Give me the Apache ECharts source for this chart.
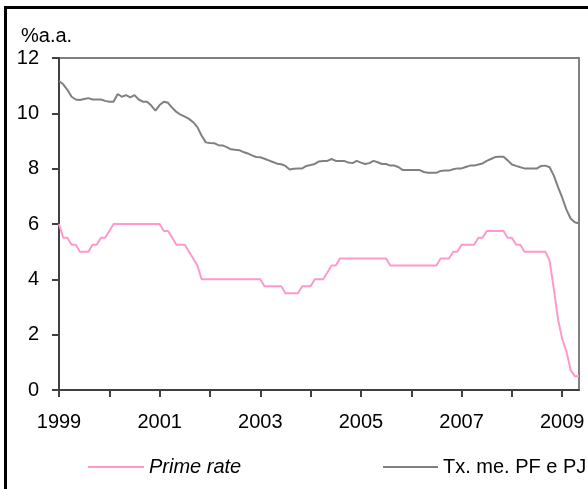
<!DOCTYPE html>
<html>
<head>
<meta charset="utf-8">
<script src="https://cdn.jsdelivr.net/npm/echarts@6/dist/echarts.min.js"></script>
<style>
  html, body { margin: 0; padding: 0; background: #fff; }
  #chart { width: 588px; height: 489px; }
</style>
</head>
<body>
<div id="chart"></div>
<script>
// Monthly series, Jan 1999 – May 2009 (% a.a.)
const startYear = 1999;
const monthCount = 125;

const primeRate = [
  6.0, 5.5, 5.5, 5.25, 5.25, 5.0, 5.0, 5.0, 5.25, 5.25, 5.5, 5.5,
  5.75, 6.0, 6.0, 6.0, 6.0, 6.0, 6.0, 6.0, 6.0, 6.0, 6.0, 6.0,
  6.0, 5.75, 5.75, 5.5, 5.25, 5.25, 5.25, 5.0, 4.75, 4.5, 4.0, 4.0,
  4.0, 4.0, 4.0, 4.0, 4.0, 4.0, 4.0, 4.0, 4.0, 4.0, 4.0, 4.0,
  4.0, 3.75, 3.75, 3.75, 3.75, 3.75, 3.5, 3.5, 3.5, 3.5, 3.75, 3.75,
  3.75, 4.0, 4.0, 4.0, 4.25, 4.5, 4.5, 4.75, 4.75, 4.75, 4.75, 4.75,
  4.75, 4.75, 4.75, 4.75, 4.75, 4.75, 4.75, 4.5, 4.5, 4.5, 4.5, 4.5,
  4.5, 4.5, 4.5, 4.5, 4.5, 4.5, 4.5, 4.75, 4.75, 4.75, 5.0, 5.0,
  5.25, 5.25, 5.25, 5.25, 5.5, 5.5, 5.75, 5.75, 5.75, 5.75, 5.75, 5.5,
  5.5, 5.25, 5.25, 5.0, 5.0, 5.0, 5.0, 5.0, 5.0, 4.67, 3.65, 2.56,
  1.84, 1.39, 0.72, 0.5, 0.5
];

const txMedia = [
  11.17, 11.05, 10.85, 10.6, 10.5, 10.48, 10.52, 10.55, 10.5, 10.5, 10.5, 10.45,
  10.42, 10.42, 10.7, 10.6, 10.66, 10.58, 10.66, 10.5, 10.42, 10.42, 10.28, 10.1,
  10.3, 10.42, 10.38, 10.2, 10.05, 9.95, 9.88, 9.8, 9.68, 9.5, 9.2, 8.95,
  8.93, 8.92, 8.85, 8.84, 8.78, 8.7, 8.68, 8.67, 8.6, 8.55, 8.48, 8.42,
  8.41, 8.36, 8.3, 8.24, 8.18, 8.16, 8.1, 7.97, 8.0, 8.01, 8.01, 8.1,
  8.13, 8.17, 8.26, 8.28, 8.28, 8.35, 8.28, 8.28, 8.28, 8.22, 8.2, 8.28,
  8.22, 8.17, 8.2, 8.28, 8.23, 8.17, 8.17, 8.11, 8.11, 8.05, 7.95, 7.95,
  7.95, 7.95, 7.95, 7.88, 7.85, 7.85, 7.85, 7.92, 7.93, 7.93, 7.98, 8.01,
  8.01, 8.06, 8.11, 8.11, 8.15, 8.19, 8.28, 8.35, 8.42, 8.43, 8.43, 8.3,
  8.15, 8.1, 8.05, 8.01, 8.01, 8.01, 8.01, 8.1, 8.11, 8.05, 7.75, 7.33,
  6.95, 6.52, 6.2, 6.06, 6.02
];

const yTicks = [0, 2, 4, 6, 8, 10, 12];
const seriesNames = ['Prime rate', 'Tx. me. PF e PJ'];
const seriesColors = ['#FF99CC', '#808080'];

// month categories "YYYY-MM"
const months = [];
for (let i = 0; i < monthCount; i++) {
  const y = startYear + Math.floor(i / 12);
  const m = (i % 12) + 1;
  months.push(y + '-' + (m < 10 ? '0' : '') + m);
}

const FONT = '"Liberation Sans", Arial, sans-serif';
const chart = echarts.init(document.getElementById('chart'), null, { renderer: 'canvas' });

chart.setOption({
  animation: false,
  backgroundColor: '#ffffff',
  textStyle: { fontFamily: FONT, color: '#000' },
  title: {
    text: '%a.a.',
    left: 21,
    top: 26,
    padding: 0,
    textStyle: { fontFamily: FONT, fontSize: 20, fontWeight: 'normal', color: '#000' }
  },
  graphic: [
    { type: 'rect', shape: { x: 4, y: 6, width: 584, height: 3 }, style: { fill: '#000' }, silent: true },
    { type: 'rect', shape: { x: 4, y: 6, width: 3, height: 483 }, style: { fill: '#000' }, silent: true }
  ],
  grid: {
    left: 59, top: 58, right: 9, bottom: 99,
    show: true,
    borderColor: '#808080',
    borderWidth: 2,
    backgroundColor: 'transparent'
  },
  legend: [
    {
      data: [seriesNames[0]],
      left: 83, top: 452,
      icon: 'rect',
      itemWidth: 56, itemHeight: 2, itemGap: 0,
      textStyle: { fontFamily: FONT, fontSize: 20, fontStyle: 'italic', color: '#000' }
    },
    {
      data: [seriesNames[1]],
      left: 378, top: 452,
      icon: 'rect',
      itemWidth: 55, itemHeight: 2, itemGap: 0,
      textStyle: { fontFamily: FONT, fontSize: 20, color: '#000' }
    }
  ],
  xAxis: {
    type: 'category',
    data: months,
    boundaryGap: false,
    axisLine: { lineStyle: { color: '#404040', width: 2 } },
    axisTick: { show: true, interval: 11, length: 7, lineStyle: { color: '#404040', width: 2 } },
    axisLabel: {
      interval: 23,
      margin: 22,
      fontFamily: FONT,
      fontSize: 20,
      color: '#000',
      formatter: v => v.slice(0, 4)
    },
    splitLine: { show: false }
  },
  yAxis: {
    type: 'value',
    min: yTicks[0],
    max: yTicks[yTicks.length - 1],
    interval: 2,
    axisLine: { show: true, lineStyle: { color: '#404040', width: 2 } },
    axisTick: { show: true, length: 7, lineStyle: { color: '#404040', width: 2 } },
    axisLabel: { margin: 20, fontFamily: FONT, fontSize: 20, color: '#000' },
    splitLine: { show: false }
  },
  series: [
    {
      name: seriesNames[0],
      type: 'line',
      data: primeRate,
      symbol: 'none',
      lineStyle: { color: seriesColors[0], width: 2 },
      itemStyle: { color: seriesColors[0] }
    },
    {
      name: seriesNames[1],
      type: 'line',
      data: txMedia,
      symbol: 'none',
      lineStyle: { color: seriesColors[1], width: 2 },
      itemStyle: { color: seriesColors[1] }
    }
  ]
});
</script>
</body>
</html>
